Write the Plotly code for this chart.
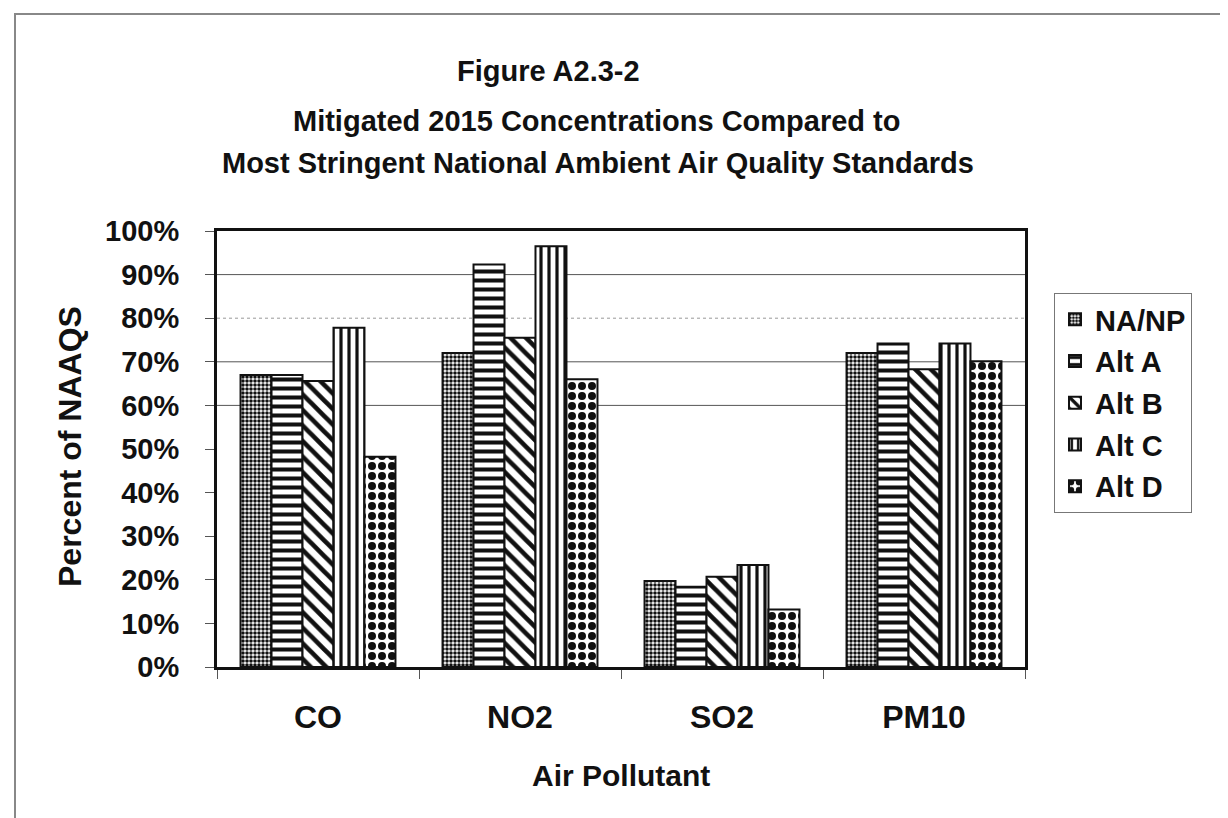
import plotly.graph_objects as go

categories = ["CO", "NO2", "SO2", "PM10"]
series_names = ["NA/NP", "Alt A", "Alt B", "Alt C", "Alt D"]
na_np = [0.67, 0.72, 0.197, 0.72]
alt_a = [0.67, 0.923, 0.184, 0.742]
alt_b = [0.656, 0.755, 0.207, 0.683]
alt_c = [0.778, 0.965, 0.234, 0.742]
alt_d = [0.482, 0.66, 0.132, 0.701]
series_values = [na_np, alt_a, alt_b, alt_c, alt_d]
y_tick_vals = [i / 10 for i in range(11)]
y_tick_text = [f"{i * 10}%" for i in range(11)]
grid_levels = [0.6, 0.7, 0.8, 0.9]

patterns = [
    dict(shape=".", size=4, solidity=0.62),
    dict(shape="-", size=9, solidity=0.45),
    dict(shape="\\", size=11, solidity=0.42),
    dict(shape="|", size=8, solidity=0.4),
    dict(shape=".", size=10, solidity=0.5),
]

FONT = "Liberation Sans, Arial, sans-serif"

fig = go.Figure()
for name, vals, pat in zip(series_names, series_values, patterns):
    fig.add_trace(go.Bar(
        x=categories, y=vals, name=name, legendgroup=name,
        marker=dict(
            color="white",
            line=dict(color="#111111", width=2),
            pattern=dict(fgcolor="#111111", bgcolor="white", fillmode="replace", **pat),
        ),
    ))

W, H = 1228, 818
L, R, T, B = 209, 211, 223, 159
pw, ph = W - L - R, H - T - B


def px(x):
    return (x - L) / pw


def py(y):
    return (H - B - y) / ph


shapes = []
for g in grid_levels:
    shapes.append(dict(type="line", xref="paper", yref="y", x0=0, x1=1, y0=g, y1=g,
                       line=dict(color="#555555" if g != 0.8 else "#999999", width=1,
                                 dash="solid" if g != 0.8 else "dot"),
                       layer="below"))
shapes.append(dict(type="rect", xref="paper", yref="paper",
                   x0=px(7), x1=px(1240), y0=py(835), y1=py(6),
                   line=dict(color="#888888", width=2), layer="below"))

annotations = [
    dict(text="<b>Figure A2.3-2</b>", x=px(540), y=py(63), xref="paper", yref="paper",
         showarrow=False, xanchor="center", yanchor="middle",
         font=dict(family=FONT, size=29, color="#111111")),
    dict(text="<b>Mitigated 2015 Concentrations Compared to</b>", x=px(589), y=py(113),
         xref="paper", yref="paper", showarrow=False, xanchor="center", yanchor="middle",
         font=dict(family=FONT, size=29, color="#111111")),
    dict(text="<b>Most Stringent National Ambient Air Quality Standards</b>", x=px(590), y=py(155),
         xref="paper", yref="paper", showarrow=False, xanchor="center", yanchor="middle",
         font=dict(family=FONT, size=29, color="#111111")),
    dict(text="<b>Percent of NAAQS</b>", x=px(62), y=py(439), xref="paper", yref="paper",
         showarrow=False, textangle=-90, xanchor="center", yanchor="middle",
         font=dict(family=FONT, size=32, color="#111111")),
    dict(text="<b>Air Pollutant</b>", x=px(613), y=py(767), xref="paper", yref="paper",
         showarrow=False, xanchor="center", yanchor="middle",
         font=dict(family=FONT, size=30, color="#111111")),
]

fig.update_layout(
    width=W, height=H,
    margin=dict(l=L, r=R, t=T, b=B, autoexpand=False),
    paper_bgcolor="white", plot_bgcolor="white",
    barmode="group", bargap=0.233, bargroupgap=0,
    font=dict(family=FONT, color="#111111"),
    shapes=shapes, annotations=annotations,
    legend=dict(
        x=px(1046), y=py(285), xanchor="left", yanchor="top",
        bordercolor="#777777", borderwidth=1, bgcolor="white",
        font=dict(family=FONT, size=29, color="#111111", weight="bold"),
        traceorder="grouped", tracegroupgap=1,
        itemwidth=30,
    ),
    xaxis=dict(
        type="category", showgrid=False, showline=True, mirror=True,
        linecolor="#111111", linewidth=3,
        ticks="outside", tickson="boundaries", ticklen=9, tickcolor="#555555",
        tickfont=dict(family=FONT, size=32, color="#111111", weight="bold"),
        ticklabelstandoff=20,
    ),
    yaxis=dict(
        range=[0, 1], tickvals=y_tick_vals, ticktext=y_tick_text,
        showgrid=False, zeroline=False, showline=True, mirror=True,
        linecolor="#111111", linewidth=3,
        ticks="outside", ticklen=9, tickcolor="#555555",
        tickfont=dict(family=FONT, size=29, color="#111111", weight="bold"),
        ticklabelstandoff=20,
    ),
)

fig.write_html("out.html")
